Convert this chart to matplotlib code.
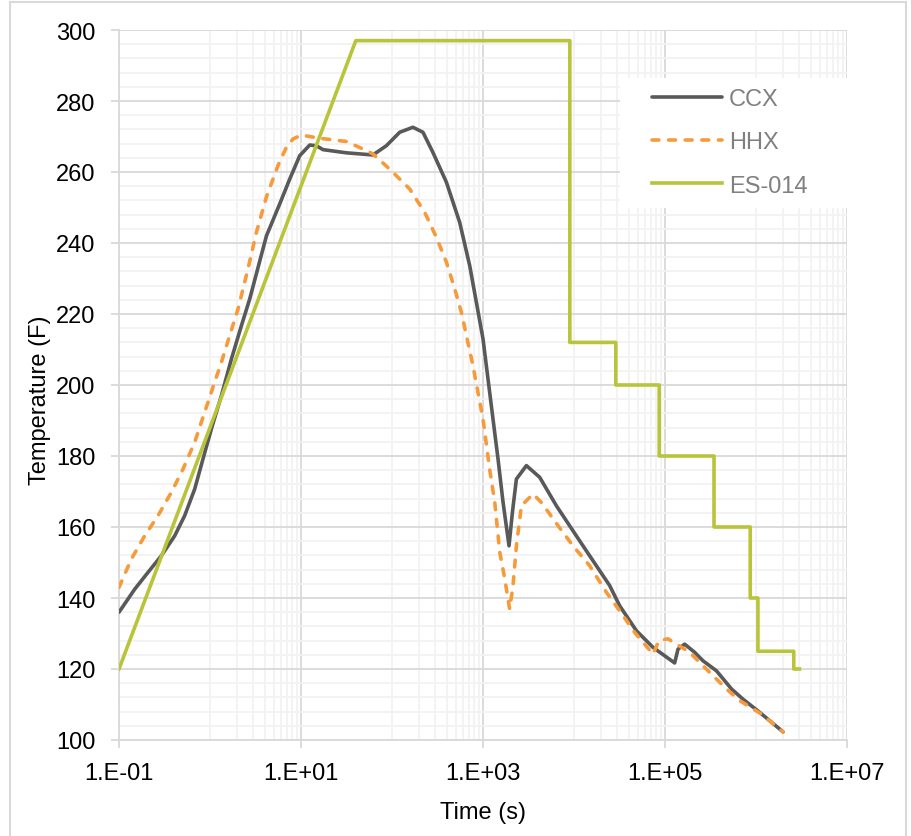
import numpy as np
import matplotlib
matplotlib.use("Agg")
import matplotlib.pyplot as plt
from matplotlib.ticker import FixedLocator, FuncFormatter, MultipleLocator
from matplotlib.patches import Rectangle

plt.rcParams['font.family'] = ['Liberation Sans', 'DejaVu Sans']

# CCX (time s, temperature F)
ccx_time = [0.1, 0.149, 0.208, 0.292, 0.409, 0.527, 0.679, 0.838, 1.035, 1.334, 1.718,
            2.213, 2.729, 4.169, 5.834, 7.516, 9.683, 12.47, 14.76, 17.46, 31.55, 61.66,
            86.7, 121.6, 169.8, 218.8, 281.8, 396.3, 554.6, 714.5, 845.3, 1000, 1288,
            1462, 1660, 1932, 2104, 2328, 2999, 4198, 6397, 10617, 14859, 24660, 31769,
            48417, 73790, 127644, 138995, 164437, 211836, 261818, 367282, 537032,
            719449, 1096478, 1981527]
ccx_temp = [136.0, 142.5, 147.2, 151.9, 157.5, 163.2, 170.7, 179.2, 187.6, 197.0, 207.3,
            216.7, 224.2, 242.0, 251.0, 258.0, 264.6, 267.6, 267.4, 266.3, 265.4, 264.8,
            267.4, 271.2, 272.6, 271.2, 265.5, 257.1, 245.8, 233.6, 223.3, 213.0, 190.4,
            179.2, 167.0, 154.7, 164.1, 173.5, 177.3, 174.0, 166.0, 157.5, 151.9, 143.5,
            137.8, 130.8, 126.1, 121.7, 125.6, 127.0, 124.7, 122.3, 119.5, 114.4,
            111.5, 107.8, 102.3]

# HHX (time s, temperature F)
hhx_time = [0.1, 0.1368, 0.1914, 0.2685, 0.3767, 0.5047, 0.6792, 0.8375, 1.079, 1.334,
            1.644, 2.032, 2.63, 3.236, 4.169, 5.623, 6.918, 8.166, 10.09, 16.03, 31.55,
            44.16, 61.66, 94.41, 156.7, 229.1, 307.6, 396.3, 489.8, 578.1, 657.7, 776.2,
            1000, 1183, 1346, 1528, 1734, 1963, 2138, 2328, 2642, 3548, 4385, 6668, 9750,
            14859, 22699, 31769, 46452, 73790, 85901, 107895, 186638, 297167, 473151,
            662217, 1148154, 1981527]
hhx_temp = [143.0, 151.0, 157.5, 163.2, 169.8, 176.3, 183.9, 190.9, 199.4, 206.4,
            213.9, 221.4, 233.0, 243.0, 253.0, 262.0, 267.0, 269.3, 270.4, 269.5, 268.6,
            266.9, 265.1, 260.8, 255.2, 248.6, 241.6, 234.6, 227.0, 220.5, 213.9, 205.4,
            190.4, 176.3, 167.0, 152.9, 145.4, 136.9, 143.5, 154.7, 166.0, 169.3, 166.9,
            160.4, 154.7, 149.1, 141.6, 136.4, 130.3, 124.2, 128.0, 128.5, 124.7, 119.5,
            114.4, 111.1, 107.3, 102.3]

# ES-014 limit curve (stepped)
es_time = [0.1, 40, 9000, 9000, 28800, 28800, 86400, 86400, 345600, 345600,
           864000, 864000, 1050000, 1050000, 2600000, 2600000, 3000000]
es_temp = [120, 297, 297, 212, 212, 200, 200, 180, 180, 160,
           160, 140, 140, 125, 125, 120, 120]

major_x = [1e-1, 1e1, 1e3, 1e5, 1e7]
minor_x = [m * 10.0 ** e for e in (0, 2, 4, 6) for m in range(1, 10)]

fig = plt.figure(figsize=(9.11, 8.37), dpi=100)
fig.patches.append(Rectangle((10 / 911, -0.01), 896 / 911, 1 - 3 / 837 + 0.01,
                             transform=fig.transFigure, fill=False,
                             edgecolor='#D9D9D9', linewidth=1.5))
ax = fig.add_axes([119 / 911, 96 / 837, 728 / 911, 710 / 837])

ax.plot(ccx_time, ccx_temp, color='#595959', lw=2.6, solid_capstyle='round',
        solid_joinstyle='round', label='CCX', zorder=3)
ax.plot(hhx_time, hhx_temp, color='#F79A3A', lw=2.6, linestyle=(0, (1.9, 2.7)),
        dash_capstyle='round', label='HHX', zorder=3)
ax.plot(es_time, es_temp, color='#B8C43A', lw=2.6, label='ES-014', zorder=3)

ax.set_xscale('log')
ax.set_xlim(0.1, 1e7)
ax.set_ylim(100, 300)
ax.xaxis.set_major_locator(FixedLocator(major_x))
ax.xaxis.set_minor_locator(FixedLocator(minor_x))
ax.xaxis.set_major_formatter(FuncFormatter(lambda v, p: '1.E%+03d' % round(np.log10(v))))
ax.xaxis.set_minor_formatter(FuncFormatter(lambda v, p: ''))
ax.yaxis.set_major_locator(MultipleLocator(20))
ax.yaxis.set_minor_locator(MultipleLocator(4))

ax.grid(True, which='major', color='#D9D9D9', lw=1.3, zorder=0)
ax.grid(True, which='minor', color='#F2F2F2', lw=1.3, zorder=0)
ax.set_axisbelow(True)
for s in ('top', 'right'):
    ax.spines[s].set_visible(False)
for s in ('left', 'bottom'):
    ax.spines[s].set_color('#D9D9D9')
    ax.spines[s].set_linewidth(1.3)
ax.tick_params(which='major', length=6, width=1.3, color='#D9D9D9', labelsize=17,
               pad=10)
ax.tick_params(axis='y', pad=11)
ax.tick_params(which='minor', length=0)

ax.set_xlabel('Time (s)', fontsize=17)
ax.xaxis.set_label_coords(0.5, -0.086)
ax.set_ylabel('Temperature (F)', fontsize=17)
ax.yaxis.set_label_coords(-0.094, 0.48)

# white legend background (covers gridlines, no border)
ax.add_patch(Rectangle((0.688, 0.749), 0.312, 0.183, transform=ax.transAxes,
                       facecolor='white', edgecolor='none', zorder=2))
leg = ax.legend(loc='upper left', bbox_to_anchor=(0.732, 0.918), fontsize=17,
                frameon=False, handlelength=2.95, handletextpad=0.3,
                labelspacing=0.9, borderpad=0, borderaxespad=0)
for t in leg.get_texts():
    t.set_color('#808080')

fig.savefig('out.png', dpi=100)
